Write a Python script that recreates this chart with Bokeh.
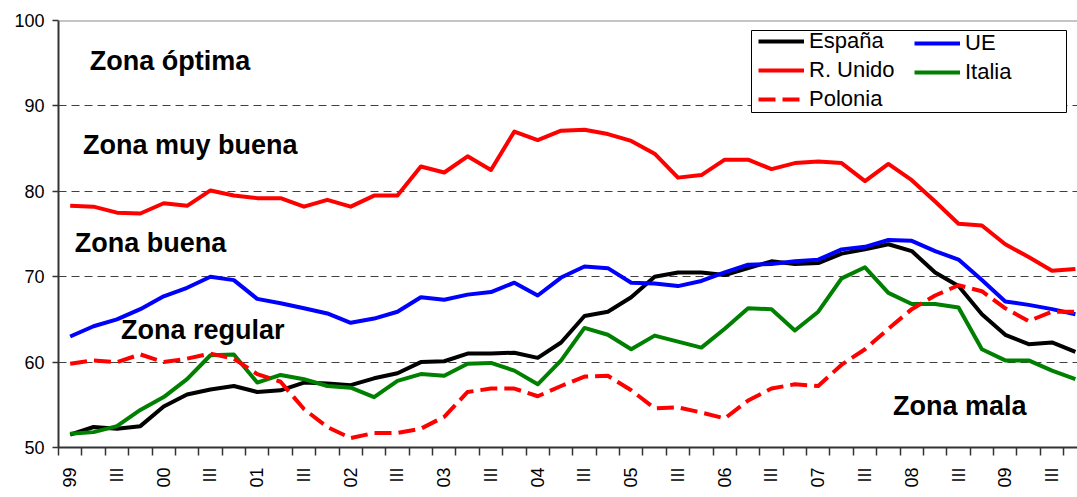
import math
from bokeh.plotting import figure
from bokeh.models import (Range1d, FixedTicker, Legend, LegendItem, Span, Label,
                          BoxAnnotation)
from bokeh.embed import file_html
from bokeh.resources import INLINE

# ---------------- data ----------------
quarters = [
    "1999-I", "1999-II", "1999-III", "1999-IV", "2000-I", "2000-II", "2000-III", "2000-IV",
    "2001-I", "2001-II", "2001-III", "2001-IV", "2002-I", "2002-II", "2002-III", "2002-IV",
    "2003-I", "2003-II", "2003-III", "2003-IV", "2004-I", "2004-II", "2004-III", "2004-IV",
    "2005-I", "2005-II", "2005-III", "2005-IV", "2006-I", "2006-II", "2006-III", "2006-IV",
    "2007-I", "2007-II", "2007-III", "2007-IV", "2008-I", "2008-II", "2008-III", "2008-IV",
    "2009-I", "2009-II", "2009-III", "2009-IV",
]
tick_labels = ["99", "III", "00", "III", "01", "III", "02", "III", "03", "III", "04", "III",
               "05", "III", "06", "III", "07", "III", "08", "III", "09", "III"]

espana = [51.5, 52.4, 52.2, 52.5, 54.8, 56.2, 56.8, 57.2, 56.5, 56.7, 57.6, 57.5,
          57.3, 58.1, 58.7, 60.0, 60.1, 61.0, 61.0, 61.1, 60.5, 62.3, 65.4, 65.9,
          67.6, 70.0, 70.5, 70.5, 70.2, 71.0, 71.8, 71.5, 71.6, 72.7, 73.2, 73.8,
          73.0, 70.5, 68.9, 65.6, 63.2, 62.1, 62.3, 61.2]
ue = [63.0, 64.2, 65.0, 66.2, 67.7, 68.7, 70.0, 69.6, 67.4, 66.9, 66.3, 65.7,
      64.6, 65.1, 65.9, 67.6, 67.3, 67.9, 68.2, 69.3, 67.8, 69.9, 71.2, 71.0,
      69.3, 69.2, 68.9, 69.5, 70.5, 71.4, 71.5, 71.8, 72.0, 73.2, 73.5, 74.3,
      74.2, 73.0, 72.0, 69.6, 67.1, 66.7, 66.2, 65.6]
reino_unido = [78.3, 78.2, 77.5, 77.4, 78.6, 78.3, 80.1, 79.5, 79.2, 79.2, 78.2, 79.0,
               78.2, 79.5, 79.5, 82.9, 82.2, 84.1, 82.5, 87.0, 86.0, 87.1, 87.2, 86.7,
               85.9, 84.4, 81.6, 81.9, 83.7, 83.7, 82.6, 83.3, 83.5, 83.3, 81.2, 83.2,
               81.3, 78.8, 76.2, 76.0, 73.8, 72.3, 70.7, 70.9]
italia = [51.6, 51.8, 52.5, 54.4, 55.9, 58.0, 60.8, 60.9, 57.6, 58.5, 58.0, 57.2,
          57.0, 55.9, 57.8, 58.6, 58.4, 59.8, 59.9, 59.0, 57.4, 60.2, 64.0, 63.2,
          61.5, 63.1, 62.4, 61.7, 63.9, 66.3, 66.2, 63.7, 65.9, 69.8, 71.1, 68.1,
          66.8, 66.8, 66.4, 61.5, 60.2, 60.2, 59.0, 58.0]
polonia = [59.8, 60.2, 60.0, 60.9, 60.0, 60.4, 61.0, 60.4, 58.6, 57.7, 54.5, 52.4,
           51.1, 51.7, 51.7, 52.2, 53.6, 56.5, 56.9, 56.9, 56.0, 57.2, 58.3, 58.4,
           56.7, 54.6, 54.7, 54.1, 53.4, 55.5, 56.9, 57.4, 57.2, 59.7, 61.5, 63.9,
           66.2, 67.8, 69.0, 68.3, 66.3, 64.8, 65.9, 65.9]

series_names = ["España", "UE", "R. Unido", "Italia", "Polonia"]
y_ticks = [50, 60, 70, 80, 90, 100]

# ---------------- figure ----------------
FONT = "Liberation Sans"
AXIS_COLOR = "#333333"
x = list(range(len(quarters)))

p = figure(width=1077, height=497, output_backend="svg", toolbar_location=None,
           x_range=Range1d(-0.5, 43.09), y_range=Range1d(50, 100),
           min_border_left=58, min_border_top=20, min_border_right=0,
           min_border_bottom=50, outline_line_color=None,
           background_fill_color="white", border_fill_color="white")

# lines (drawing order as in the original)
r_es = p.line(x, espana, line_color="#000000", line_width=4, line_join="round")
r_ue = p.line(x, ue, line_color="#0000FF", line_width=4, line_join="round")
r_uk = p.line(x, reino_unido, line_color="#FF0000", line_width=4, line_join="round")
r_it = p.line(x, italia, line_color="#008000", line_width=4, line_join="round")
r_pl = p.line(x, polonia, line_color="#FF0000", line_width=4, line_dash="17 7",
              line_join="round")

# y axis
p.yaxis.ticker = FixedTicker(ticks=y_ticks)
p.yaxis.axis_line_color = AXIS_COLOR
p.yaxis.axis_line_width = 2
p.yaxis.major_tick_in = 0
p.yaxis.major_tick_out = 6
p.yaxis.major_tick_line_color = AXIS_COLOR
p.yaxis.major_tick_line_width = 1.5
p.yaxis.minor_tick_line_color = None
p.yaxis.major_label_standoff = 8
p.yaxis.major_label_text_font = FONT
p.yaxis.major_label_text_font_size = "18px"
p.yaxis.major_label_text_color = "black"

# x axis: labels at every other quarter, tick marks at quarter boundaries
label_pos = [2 * i for i in range(len(tick_labels))]
bounds = [i - 0.5 for i in range(len(quarters) + 1)]
p.xaxis.ticker = FixedTicker(ticks=label_pos, minor_ticks=bounds)
p.xaxis.major_label_overrides = {pos: lab for pos, lab in zip(label_pos, tick_labels)}
p.xaxis.major_label_orientation = math.pi / 2
p.xaxis.major_tick_line_color = None
p.xaxis.major_tick_in = 0
p.xaxis.major_tick_out = 0
p.xaxis.minor_tick_in = 0
p.xaxis.minor_tick_out = 8
p.xaxis.minor_tick_line_color = AXIS_COLOR
p.xaxis.minor_tick_line_width = 1.5
p.xaxis.axis_line_color = AXIS_COLOR
p.xaxis.axis_line_width = 2
p.xaxis.major_label_standoff = 12
p.xaxis.major_label_text_font = FONT
p.xaxis.major_label_text_font_size = "18px"
p.xaxis.major_label_text_color = "black"

# grid
p.xgrid.grid_line_color = None
p.ygrid.ticker = FixedTicker(ticks=[60, 70, 80, 90])
p.ygrid.grid_line_color = "#404040"
p.ygrid.grid_line_width = 1
p.ygrid.grid_line_dash = "8 5"

# top border of plot area
p.add_layout(Span(location=100, dimension="width", line_color="#8c8c8c", line_width=2))

# zone labels
zones = [("Zona óptima", 0.84, 95.2), ("Zona muy buena", 0.55, 85.4),
         ("Zona buena", 0.2, 73.9), ("Zona regular", 2.17, 63.75),
         ("Zona mala", 35.2, 54.87)]
for txt, zx, zy in zones:
    p.add_layout(Label(x=zx, y=zy, text=txt, text_font=FONT, text_font_style="bold",
                       text_font_size="27px", text_color="black",
                       text_baseline="alphabetic", text_align="left"))

# legend box + two columns of legend items
box = BoxAnnotation(left=693, right=1008, top=417, bottom=335,
                    left_units="screen", right_units="screen",
                    top_units="screen", bottom_units="screen",
                    fill_color="white", fill_alpha=1.0,
                    line_color="black", line_width=1, line_alpha=1.0)
p.add_layout(box)

common = dict(label_text_font=FONT, label_text_font_size="22px",
              label_text_color="black", glyph_width=46, glyph_height=22,
              label_height=22, label_standoff=5, spacing=3, padding=4, margin=0,
              border_line_color=None, background_fill_alpha=0.0)
leg_a = Legend(items=[LegendItem(label=series_names[0], renderers=[r_es]),
                      LegendItem(label=series_names[2], renderers=[r_uk]),
                      LegendItem(label=series_names[4], renderers=[r_pl])],
               location=(700, 335), **common)
leg_b = Legend(items=[LegendItem(label=series_names[1], renderers=[r_ue]),
                      LegendItem(label=series_names[3], renderers=[r_it])],
               location=(856, 362), **common)
p.add_layout(leg_a)
p.add_layout(leg_b)

open("out.html", "w").write(file_html(p, INLINE))
